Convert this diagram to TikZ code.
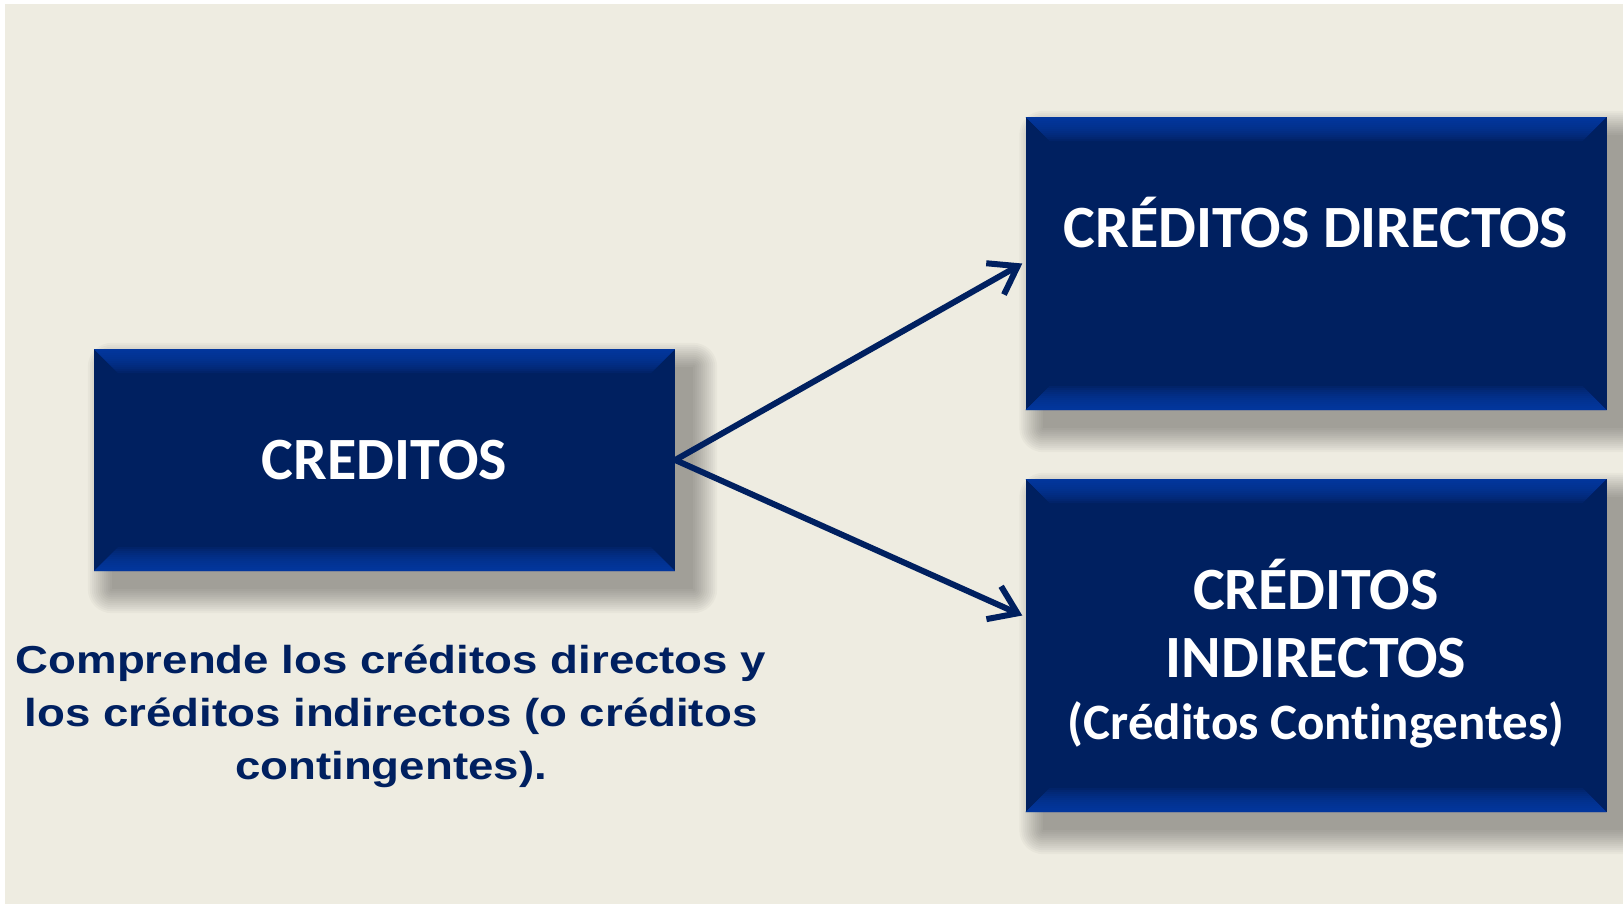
\documentclass[tikz,border=0pt]{standalone}
\usepackage{fontspec}
\setmainfont{Liberation Sans}
\newfontfamily\boxfont[Ligatures=CommonOff]{Carlito}
\usetikzlibrary{arrows.meta,calc,backgrounds}

\definecolor{navy}{HTML}{002060}
\definecolor{bevel}{HTML}{0A40B0}
\definecolor{paper}{HTML}{EEECE1}

\tikzset{
  credbox/.style={fill=navy, text=white, minimum width=581, inner sep=0pt, align=center,
    font=\boxfont\bfseries\fontsize{60}{68}\selectfont,
    path picture={
      \foreach \h in {2,4,...,24} {
        \fill[bevel, opacity=0.12] (path picture bounding box.north west) -- (path picture bounding box.north east)
          -- ++(-\h pt,-\h pt) -- ($(path picture bounding box.north west)+(\h pt,-\h pt)$) -- cycle;
        \fill[bevel, opacity=0.12] (path picture bounding box.south west) -- (path picture bounding box.south east)
          -- ++(-\h pt,\h pt) -- ($(path picture bounding box.south west)+(\h pt,\h pt)$) -- cycle;
      }
    }},
  sombra/.style={fill=black, opacity=0.028},
  flecha/.style={-{Straight Barb[length=26pt,width=36pt]}, line width=6pt, draw=navy, line cap=round, line join=round}
}

\begin{document}
\begin{tikzpicture}[x=1pt,y=-1pt]
\useasboundingbox (0,0) rectangle (1623,906);

\node[credbox, minimum height=222] (cred) at (384.5,460) {CREDITOS};
\node[credbox, minimum height=293, text height=38pt, text depth=70pt] (dir) at (1316,263.5) {CRÉDITOS DIRECTOS};
\node[credbox, minimum height=333] (ind) at (1316,645.5) {\rule{0pt}{66pt}CRÉDITOS\\INDIRECTOS\\[-6pt]{\fontsize{51}{60}\selectfont (Créditos Contingentes)}};

\node[font=\bfseries\fontsize{39}{53}\selectfont, text=navy, align=center, xscale=1.17, transform shape] (nota) at (391,716)
  {Comprende los créditos directos y\\los créditos indirectos (o créditos\\contingentes).};

\draw[flecha] (cred.east) -- ([xshift=-3pt]dir.west);
\draw[flecha] (cred.east) -- ([xshift=-3pt,yshift=30pt]ind.west);

\begin{pgfonlayer}{background}
\fill[white] (0,0) rectangle (1623,906);
\fill[paper] (5,4) rectangle (1623,904);
% soft shadows
\foreach \b in {cred,dir,ind}
  \foreach \e in {0,2,...,24}
    \fill[sombra, rounded corners=\e pt] ($(\b.north west)+(18-\e,18-\e)$) rectangle ($(\b.south east)+(18+\e,18+\e)$);
\end{pgfonlayer}
\end{tikzpicture}
\end{document}
